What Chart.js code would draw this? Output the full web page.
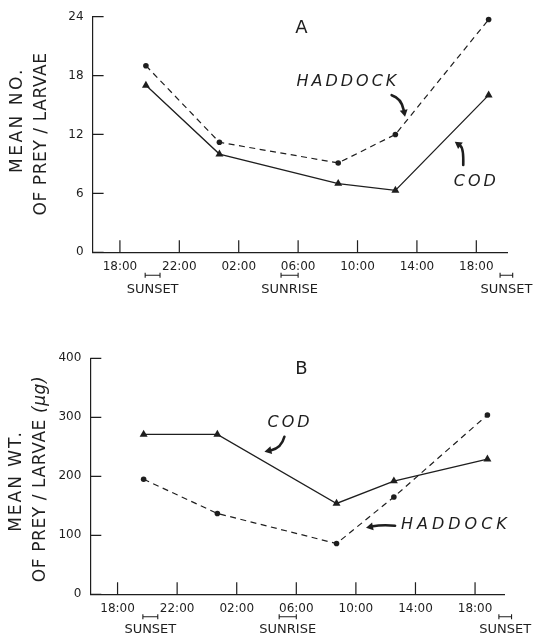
<!DOCTYPE html>
<html><head><meta charset="utf-8">
<script src="https://cdn.jsdelivr.net/npm/chart.js@4.4.1/dist/chart.umd.min.js"></script>
<style>
html,body{margin:0;padding:0;background:#fff;}
#wrap{position:relative;width:534px;height:641px;overflow:hidden;background:#fff;}
canvas{position:absolute;left:0;}
</style></head><body>
<div id="wrap">
<canvas id="cA" width="534" height="320" style="top:0"></canvas>
<canvas id="cB" width="534" height="321" style="top:320px"></canvas>
</div>
<script>
// ---- data (hours counted from midnight of the first day; 26 = 02:00 next day) ----
const sampleHours   = [19.75, 24.7, 32.7, 36.55, 42.83];
const codNumber     = [17.0, 10.0, 7.0, 6.3, 16.0];
const haddockNumber = [19.0, 11.2, 9.1, 12.0, 23.7];
const codWeight     = [271, 271, 154, 192, 229];
const haddockWeight = [195, 137, 86, 165, 304];
const xTickHours    = [18, 22, 26, 30, 34, 38, 42];
const xTickLabels   = ['18:00', '22:00', '02:00', '06:00', '10:00', '14:00', '18:00'];
const sunsetRanges  = [[19.7, 20.7], [43.6, 44.45]];
const sunriseRanges = [[28.85, 30.0]];

const INK = '#1e1e1e';
const FONT = '"DejaVu Sans", sans-serif';

function pts(xs, ys) { return xs.map((x, i) => ({x: x, y: ys[i]})); }

function decor(cfg) {
  return {
    id: 'decor',
    afterDraw(chart) {
      const ctx = chart.ctx, xs = chart.scales.x, ys = chart.scales.y, ca = chart.chartArea;
      const X = v => xs.getPixelForValue(v), Y = v => ys.getPixelForValue(v);
      ctx.save();
      ctx.strokeStyle = INK; ctx.fillStyle = INK; ctx.lineWidth = 1.2;
      // inward tick marks
      ctx.beginPath();
      xs.ticks.forEach(t => { const p = X(t.value); ctx.moveTo(p, ca.bottom); ctx.lineTo(p, ca.bottom - 12); });
      ys.ticks.forEach(t => { const p = Y(t.value); ctx.moveTo(ca.left, p); ctx.lineTo(ca.left + 11, p); });
      ctx.stroke();
      // sunset / sunrise bars and labels
      const barY = ca.bottom + cfg.barOff, labY = ca.bottom + cfg.labOff;
      ctx.lineWidth = 1.1;
      const bars = [];
      sunsetRanges.forEach(r => bars.push([r, 'SUNSET']));
      sunriseRanges.forEach(r => bars.push([r, 'SUNRISE']));
      ctx.font = '13px ' + FONT; ctx.textAlign = 'center'; ctx.textBaseline = 'middle';
      bars.forEach(([r, lab]) => {
        const a = X(r[0]), b = X(r[1]);
        ctx.beginPath();
        ctx.moveTo(a, barY); ctx.lineTo(b, barY);
        ctx.moveTo(a, barY - 2.5); ctx.lineTo(a, barY + 2.5);
        ctx.moveTo(b, barY - 2.5); ctx.lineTo(b, barY + 2.5);
        ctx.stroke();
        ctx.fillText(lab, (a + b) / 2, labY);
      });
      // panel letter
      ctx.font = '18px ' + FONT;
      ctx.fillText(cfg.letter[0], X(cfg.letter[1]), Y(cfg.letter[2]));
      // series labels (hand lettered, italic)
      ctx.font = 'italic 16px ' + FONT;
      cfg.labels.forEach(l => {
        ctx.letterSpacing = l[3] + 'px';
        ctx.fillText(l[0], X(l[1]) + l[3] / 2, Y(l[2]));
      });
      ctx.letterSpacing = '0px';
      // arrows
      cfg.arrows.forEach(a => {
        const t = [X(a[0][0]), Y(a[0][1])], c = [X(a[1][0]), Y(a[1][1])], h = [X(a[2][0]), Y(a[2][1])];
        const ang = Math.atan2(h[1] - c[1], h[0] - c[0]);
        const hl = 7, hw = 4;
        const bx = h[0] - hl * Math.cos(ang), by = h[1] - hl * Math.sin(ang);
        ctx.lineWidth = 2.6; ctx.lineCap = 'round';
        ctx.beginPath(); ctx.moveTo(t[0], t[1]); ctx.quadraticCurveTo(c[0], c[1], bx, by); ctx.stroke();
        ctx.beginPath();
        ctx.moveTo(h[0], h[1]);
        ctx.lineTo(bx + hw * Math.sin(ang), by - hw * Math.cos(ang));
        ctx.lineTo(bx - hw * Math.sin(ang), by + hw * Math.cos(ang));
        ctx.closePath(); ctx.fill();
      });
      // y-axis title (two rotated lines)
      ctx.textAlign = 'left';
      cfg.yTitle.forEach(line => {
        ctx.save();
        ctx.translate(line.x, line.y);
        ctx.rotate(-Math.PI / 2);
        ctx.letterSpacing = line.sp + 'px';
        ctx.font = '17px ' + FONT;
        const w1 = ctx.measureText(line.text).width;
        let w2 = 0;
        if (line.italic) { ctx.font = 'italic 17px ' + FONT; w2 = ctx.measureText(line.italic).width; }
        const start = -(w1 + w2) / 2;
        ctx.font = '17px ' + FONT;
        ctx.fillText(line.text, start, 0);
        if (line.italic) { ctx.font = 'italic 17px ' + FONT; ctx.fillText(line.italic, start + w1, 0); }
        ctx.restore();
      });
      ctx.restore();
    }
  };
}

function makeChart(id, cfg) {
  const el = document.getElementById(id);
  return new Chart(el, {
    type: 'line',
    data: {
      datasets: [
        { label: 'Haddock', data: pts(sampleHours, cfg.haddock), borderColor: INK, backgroundColor: INK,
          borderWidth: 1.2, borderDash: [6, 4.5], pointStyle: 'circle', pointRadius: 2.8,
          pointBorderWidth: 0, tension: 0, clip: false },
        { label: 'Cod', data: pts(sampleHours, cfg.cod), borderColor: INK, backgroundColor: INK,
          borderWidth: 1.3, pointStyle: 'triangle', pointRadius: 4.6, pointBorderWidth: 0,
          tension: 0, clip: false }
      ]
    },
    options: {
      responsive: false, animation: false, devicePixelRatio: 1,
      layout: { padding: { top: cfg.padTop, right: cfg.padRight, left: 0, bottom: 0 } },
      plugins: { legend: { display: false }, tooltip: { enabled: false }, title: { display: false } },
      scales: {
        x: {
          type: 'linear', min: cfg.xMin, max: cfg.xMax,
          grid: { display: false, drawTicks: false },
          border: { display: true, color: INK, width: 1.2 },
          afterBuildTicks: s => { s.ticks = xTickHours.map(v => ({ value: v })); },
          afterFit: s => { s.height = cfg.xAxisH; },
          ticks: { autoSkip: false, maxRotation: 0, padding: 7, color: INK,
                   font: { family: FONT, size: 12 },
                   callback: (v, i) => xTickLabels[i] }
        },
        y: {
          min: 0, max: cfg.yMax,
          grid: { display: false, drawTicks: false },
          border: { display: true, color: INK, width: 1.2 },
          afterFit: s => { s.width = cfg.yAxisW; },
          ticks: { stepSize: cfg.yStep, padding: 9, color: INK, font: { family: FONT, size: 12 } }
        }
      }
    },
    plugins: [decor(cfg)]
  });
}

makeChart('cA', {
  haddock: haddockNumber, cod: codNumber,
  xMin: 16.16, xMax: 44.1, yMax: 24, yStep: 6,
  padTop: 16.6, padRight: 26.5, yAxisW: 92.6, xAxisH: 67.7,
  barOff: 23, labOff: 37.7,
  letter: ['A', 30.22, 22.8],
  labels: [['HADDOCK', 33.25, 17.37, 3], ['COD', 41.9, 7.19, 3]],
  arrows: [
    [[36.3, 16.0], [36.95, 15.7], [37.2, 13.8]],
    [[41.12, 8.89], [41.15, 10.6], [40.55, 11.26]]
  ],
  yTitle: [ { text: 'MEAN NO.', x: 18, y: 120, sp: 2.5 }, { text: 'OF PREY / LARVAE', x: 42, y: 134, sp: 0.6 } ]
});

makeChart('cB', {
  haddock: haddockWeight, cod: codWeight,
  xMin: 16.17, xMax: 43.95, yMax: 400, yStep: 100,
  padTop: 38.3, padRight: 29.9, yAxisW: 90.3, xAxisH: 46.7,
  barOff: 22.4, labOff: 35.7,
  letter: ['B', 30.34, 381],
  labels: [['COD', 29.48, 289.8, 3], ['HADDOCK', 40.58, 117.5, 4]],
  arrows: [
    [[29.2, 267], [29.0, 248], [27.86, 241.7]],
    [[36.63, 116.3], [35.7, 118], [34.68, 112.9]]
  ],
  yTitle: [ { text: 'MEAN WT.', x: 17, y: 161, sp: 2 }, { text: 'OF PREY / LARVAE ', italic: '(μg)', x: 41, y: 159, sp: 0.6 } ]
});
</script>
</body></html>
